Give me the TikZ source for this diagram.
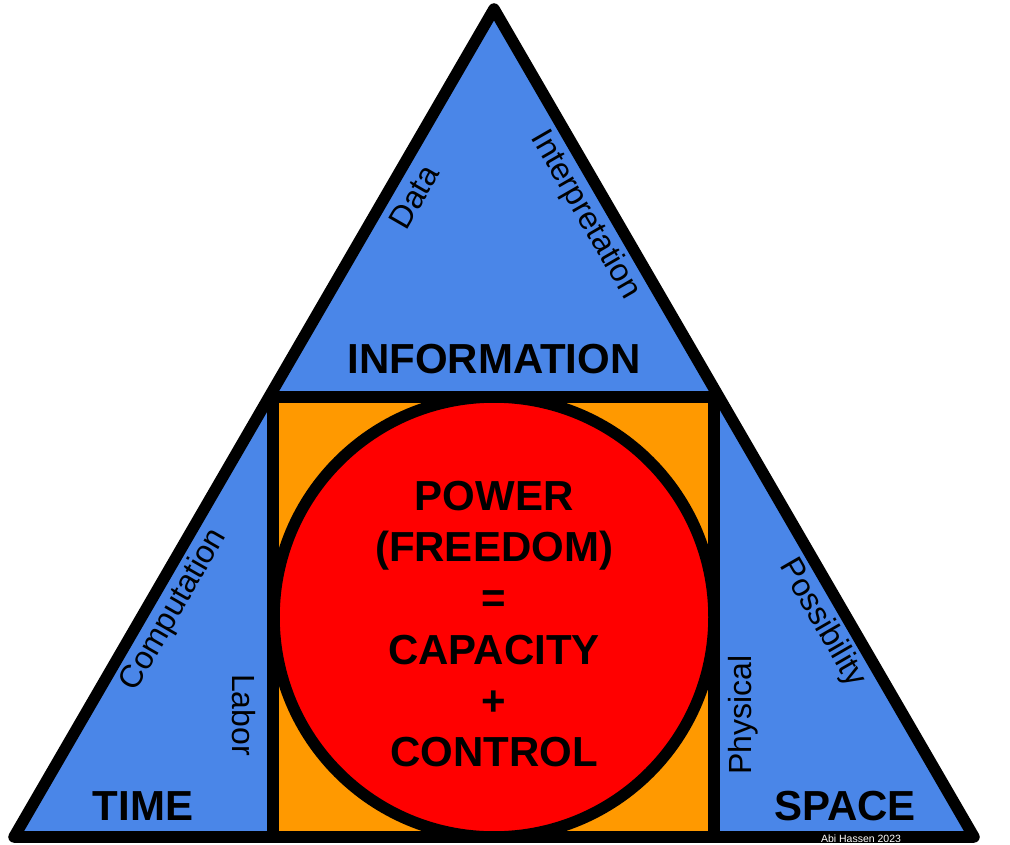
\documentclass[tikz,border=0pt]{standalone}
\usepackage{fontspec}
\setmainfont{Liberation Sans}
\usetikzlibrary{calc}
\definecolor{triblue}{HTML}{4A86E8}
\definecolor{sqorange}{HTML}{FF9900}
\definecolor{circred}{HTML}{FF0000}
\tikzset{
  outline/.style={draw=black, line width=11.5pt, line join=round},
  bigtxt/.style={font=\fontsize{42}{50}\selectfont\bfseries, inner sep=0pt, anchor=base},
  edgetxt/.style={font=\fontsize{32}{38}\selectfont, inner sep=0pt, anchor=center},
}
\begin{document}
\begin{tikzpicture}[x=1pt,y=-1pt]
\useasboundingbox (0,0) rectangle (1010,845);
\coordinate (A) at (494,9);
\coordinate (BL) at (14,837);
\coordinate (BR) at (974,837);
\coordinate (HL) at ($(A)!0.4686!(BL)$);
\coordinate (HR) at ($(A)!0.4686!(BR)$);
% shadow
\fill[black!12] ($(A)+(2,3)$) -- ($(BR)+(4,3)$) -- ($(BL)+(2,3)$) -- cycle;
% triangle
\draw[outline, fill=triblue] (A) -- (BR) -- (BL) -- cycle;
% square
\draw[outline, fill=sqorange] (273,397) rectangle (714,837);
\draw[outline] (HL) -- (HR);
% circle
\draw[outline, fill=circred] (494,617) circle (220);
% repaint bottom line
\draw[outline] (BL) -- (BR);
% labels
\node[bigtxt] (info) at (494,373) {INFORMATION};
\node[bigtxt] (time) at (143,820) {TIME};
\node[bigtxt] (space) at (845,820) {SPACE};
\node[bigtxt] (l1) at (494,510) {POWER};
\node[bigtxt] (l2) at (494,561.5) {(FREEDOM)};
\node[bigtxt] (l3) at (494,612.5) {=};
\node[bigtxt] (l4) at (494,664) {CAPACITY};
\node[bigtxt] (l5) at (494,715) {+};
\node[bigtxt] (l6) at (494,766.5) {CONTROL};
\node[edgetxt, rotate=60] (data) at (414,197) {Data};
\node[edgetxt, rotate=-60] (interp) at (585,215) {Interpretation};
\node[edgetxt, rotate=60] (comp) at (174,610) {Computation};
\node[edgetxt, rotate=-90] (labor) at (244,715) {Labor};
\node[edgetxt, rotate=90] (phys) at (743,715) {Physical};
\node[edgetxt, rotate=-60] (poss) at (822,623) {Possibility};
\node[font=\fontsize{10.5}{12}\selectfont, text=white, inner sep=0pt] (credit) at (861,839) {Abi Hassen 2023};
\end{tikzpicture}
\end{document}
